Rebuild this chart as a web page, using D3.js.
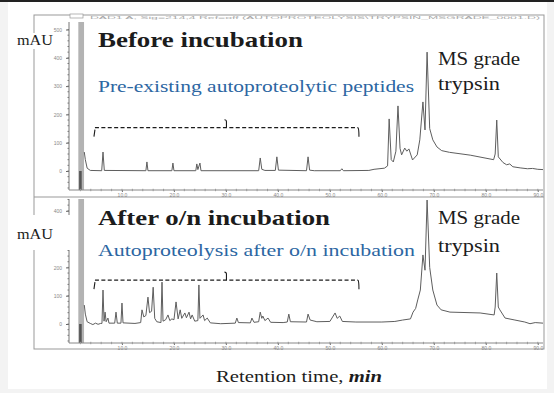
<!DOCTYPE html>
<html lang="en">
<head>
<meta charset="UTF-8">
<title>Trypsin autoproteolysis – HPLC traces</title>
<script src="https://d3js.org/d3.v7.min.js"></script>
<style>
  body { margin: 0; background: #f3f3f3; }
  svg { display: block; }
  .serif { font-family: 'Liberation Serif', 'Times New Roman', 'DejaVu Serif', serif; }
  .tick text { font-family: 'Liberation Sans', sans-serif; font-size: 5px; fill: #888; }
  .header { font-family: 'Liberation Sans', sans-serif; font-size: 4px; fill: #aaa; }
</style>
</head>
<body>
<svg width="554" height="393"></svg>
<script>
  // axis ticks
  const timeTicks = [10, 20, 30, 40, 50, 60, 70, 80, 90];   // min
  const mauTicks = [0, 100, 200, 300, 400, 500];           // mAU

  // off-scale injection / solvent front, min
  const injection = [1.6, 2.7];

  // before incubation: retention time (min) and absorbance (mAU)
  const topTime = [2.75, 2.95, 3.3, 3.9, 6.1, 6.35, 6.6, 14.6, 14.8, 15.0, 19.6, 19.8, 20.0,
    24.2, 24.4, 24.6, 25.0, 25.2, 36.3, 36.6, 36.9, 37.5, 39.5, 39.8, 40.1, 45.5, 45.8, 46.1,
    47.0, 52.0, 52.3, 52.6, 57.5, 58.5, 60.5, 61.1, 61.4, 61.8, 62.2, 62.7, 63.1, 63.5, 63.8,
    64.4, 64.8, 65.2, 65.9, 66.8, 67.3, 67.9, 68.3, 68.7, 69.2, 69.8, 70.6, 71.5, 73.0, 77.0,
    81.5, 81.8, 82.1, 82.4, 83.3, 84.0, 84.6, 85.2, 86.6, 88.0, 89.0, 90.0, 91.0];
  const topMau = [67, 40, 10, 2, 1, 67, 2, 1, 32, 1, 1, 28, 1,
    1, 25, 5, 28, 1, 1, 46, 6, 2, 2, 50, 3, 1, 50, 3,
    1, 1, 8, 1, 2, 6, 10, 18, 184, 40, 32, 70, 230, 80, 57,
    81, 70, 78, 39, 57, 110, 244, 145, 420, 150, 110, 85, 72, 66, 56,
    40, 60, 180, 50, 30, 22, 25, 15, 11, 8, 9, 6, 5];

  // after o/n incubation
  const bottomTime = [2.75, 2.95, 3.3, 3.9, 4.4, 4.9, 5.4, 5.9, 6.15, 6.35, 6.55, 6.75, 6.95,
    7.3, 7.5, 8.6, 8.85, 9.1, 9.8, 10.0, 10.2, 12.5, 13.6, 13.85, 14.2, 14.6, 15.0, 15.3, 15.7,
    16.0, 16.3, 16.7, 17.5, 17.7, 17.9, 18.4, 18.85, 19.2, 19.6, 20.0, 20.4, 20.8, 21.2, 21.5,
    22.1, 22.4, 22.9, 23.2, 23.5, 24.0, 24.6, 24.8, 25.0, 25.6, 25.9, 26.4, 27.0, 29.0, 31.8,
    32.1, 32.4, 34.7, 35.0, 35.4, 36.3, 36.6, 36.9, 37.1, 37.5, 38.1, 38.6, 41.0, 41.8, 42.1,
    42.4, 45.5, 45.8, 46.2, 47.5, 50.0, 51.0, 51.4, 51.9, 52.4, 55.0, 60.0, 62.5, 64.0, 65.5,
    66.0, 66.5, 66.9, 67.4, 67.9, 68.3, 68.7, 69.2, 69.8, 70.6, 71.4, 73.1, 78.9, 81.6, 81.8,
    82.1, 82.4, 82.7, 83.7, 85.6, 87.5, 88.5, 89.5, 91.0];
  const bottomMau = [67, 35, 8, 2, -2, 3, -1, 2, 2, 120, 10, 42, 8,
    21, 3, 3, 42, 3, 3, 74, 4, 2, 5, 50, 25, 30, 95, 40, 45,
    130, 20, 8, 5, 148, 10, 15, 32, 12, 18, 15, 78, 18, 50, 20,
    39, 22, 42, 18, 32, 10, 12, 138, 20, 32, 12, 21, 4, 1, 3,
    21, 5, 4, 21, 6, 8, 42, 20, 28, 12, 21, 6, 5, 7, 35,
    8, 7, 35, 14, 8, 9, 39, 20, 28, 9, 7, 7, 9, 14, 18,
    42, 55, 85, 120, 244, 190, 438, 200, 120, 67, 50, 42, 39, 32, 60,
    180, 60, 50, 21, 14, 7, 1, 5, 3];

  // dashed bracket over the autoproteolytic peptides: from, to (min), level (mAU)
  const bracketSpan = [4.8, 55.4];
  const bracketLevel = [153, 155];

  const panels = [
    { time: topTime, mau: topMau, y0: 22, y1: 190, base: 171,
      title: "Before incubation", titleY: 47, titleLen: 205,
      sub: "Pre-existing autoproteolytic peptides", subY: 92, subLen: 316,
      msY: 65, trY: 90, mauY: 45, mauBox: [14, 33, 42, 16] },
    { time: bottomTime, mau: bottomMau, y0: 199, y1: 343, base: 324,
      title: "After o/n incubation", titleY: 225, titleLen: 232,
      sub: "Autoproteolysis after o/n incubation", subY: 256, subLen: 317,
      msY: 224, trY: 252, mauY: 239, mauBox: [14, 215, 62, 35] }
  ];

  const svg = d3.select("svg");
  const blue = "#2c66a2", ink = "#1c1c1c";

  svg.append("rect").attr("x", 8).attr("y", 2).attr("width", 539).attr("height", 387).attr("fill", "#fff");
  svg.append("rect").attr("width", 554).attr("height", 2).attr("fill", "#222");

  const x = d3.scaleLinear().domain([0, 91]).range([70, 543]);

  // outer frame of the scanned figure
  svg.append("rect").attr("x", 34).attr("y", 15).attr("width", 510).attr("height", 334)
    .attr("fill", "none").attr("stroke", "#999");
  svg.append("line").attr("x1", 34).attr("x2", 544).attr("y1", 197).attr("y2", 197).attr("stroke", "#999");

  // instrument header (top panel)
  svg.append("rect").attr("x", 70).attr("y", 14).attr("width", 13).attr("height", 4)
    .attr("fill", "#fff").attr("stroke", "#999").attr("stroke-width", 0.7);
  svg.append("text").attr("class", "header").attr("x", 90).attr("y", 19)
    .attr("textLength", 450).attr("lengthAdjust", "spacingAndGlyphs")
    .text("DAD1 A, Sig=214,4 Ref=off (AUTOPROTEOLYSIS\\TRYPSIN_MSGRADE_0001.D)");

  const label = (xPos, yPos, size, txt, len, fill) => svg.append("text").attr("class", "serif")
    .attr("x", xPos).attr("y", yPos).attr("font-size", size).attr("fill", fill || ink)
    .attr("textLength", len).attr("lengthAdjust", "spacingAndGlyphs").text(txt);

  panels.forEach((p, i) => {
    const y = d3.scaleLinear().domain([0, 500]).range([p.base, p.base - 141.5]);
    const g = svg.append("g");

    svg.append("clipPath").attr("id", "clip" + i)
      .append("rect").attr("x", 70).attr("y", p.y0).attr("width", 473).attr("height", p.y1 - p.y0);

    // saturated injection band
    g.append("rect").attr("x", x(injection[0])).attr("width", x(injection[1]) - x(injection[0]))
      .attr("y", p.y0).attr("height", p.y1 - p.y0).attr("fill", "#b3b3b3");
    g.append("rect").attr("x", x(injection[0]) + 0.8).attr("width", 2.6)
      .attr("y", y(0)).attr("height", p.y1 - y(0)).attr("fill", "#555");

    // trace
    const line = d3.line().x(d => x(d[0])).y(d => y(d[1]));
    g.append("path").datum(d3.zip(p.time, p.mau))
      .attr("d", line).attr("fill", "none").attr("stroke", "#5e5e5e").attr("stroke-width", 1)
      .attr("stroke-linejoin", "round").attr("clip-path", `url(#clip${i})`);

    // y axis
    const ya = g.append("g").attr("transform", "translate(69,0)")
      .call(d3.axisLeft(y).tickValues(mauTicks.filter(v => y(v) > p.y0)).tickSize(3).tickPadding(4));
    ya.select(".domain").remove();
    ya.selectAll("line").attr("stroke", "#666");
    ya.append("line").attr("y1", p.y0).attr("y2", p.y1).attr("stroke", "#777");
    ya.selectAll(".minor").data(d3.range(-60, 520, 20).filter(v => y(v) > p.y0 && y(v) < p.y1))
      .enter().append("line").attr("class", "minor")
      .attr("x1", -1.5).attr("x2", 0).attr("y1", d => y(d)).attr("y2", d => y(d)).attr("stroke", "#777");

    // x axis
    const xa = g.append("g").attr("transform", `translate(0,${p.y1})`)
      .call(d3.axisBottom(x).tickValues(timeTicks).tickSize(2).tickPadding(1).tickFormat(d3.format(".1f")));
    xa.select(".domain").remove();
    xa.selectAll("line").attr("stroke", "#777");
    xa.append("line").attr("x1", 69).attr("x2", 543).attr("stroke", "#888");
    xa.selectAll(".minor").data(d3.range(2, 91, 2))
      .enter().append("line").attr("class", "minor")
      .attr("x1", d => x(d)).attr("x2", d => x(d)).attr("y1", -1.2).attr("y2", 1.2).attr("stroke", "#999");

    // dashed bracket
    const bx0 = x(bracketSpan[0]), bx1 = x(bracketSpan[1]), bxc = (bx0 + bx1) / 2;
    const by = y(bracketLevel[i]);
    g.append("line").attr("x1", bx0).attr("x2", bx1).attr("y1", by).attr("y2", by)
      .attr("stroke", ink).attr("stroke-width", 1.3).attr("stroke-dasharray", "4,2.4");
    g.append("path")
      .attr("d", `M${bx0},${by + 2} L${bx0 - 1},${by + 9}` +
                 ` M${bxc},${by} L${bxc},${by - 6} Q${bxc},${by - 8} ${bxc - 2},${by - 8}` +
                 ` M${bx1},${by} Q${bx1 + 1},${by + 1} ${bx1 + 1},${by + 9}`)
      .attr("fill", "none").attr("stroke", ink).attr("stroke-width", 1.1);

    // mAU label on a white patch
    svg.append("rect").attr("x", p.mauBox[0]).attr("y", p.mauBox[1])
      .attr("width", p.mauBox[2]).attr("height", p.mauBox[3]).attr("fill", "#fff");
    label(17, p.mauY, 15, "mAU", 36);

    // annotations
    label(98, p.titleY, 21, p.title, p.titleLen).attr("font-weight", "bold");
    label(98, p.subY, 16, p.sub, p.subLen, blue);
    label(438, p.msY, 19, "MS grade", 82);
    label(438, p.trY, 19, "trypsin", 62);
  });

  const xt = label(216, 382, 17, null, 166);
  xt.append("tspan").text("Retention time, ");
  xt.append("tspan").attr("font-style", "italic").attr("font-weight", "bold").text("min");
</script>
</body>
</html>
